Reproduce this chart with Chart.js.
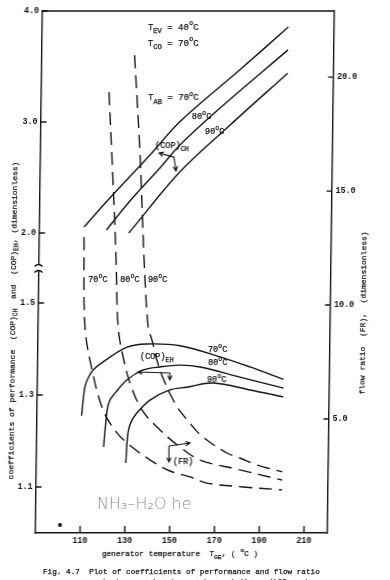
<!DOCTYPE html>
<html>
<head>
<meta charset="utf-8">
<script src="https://cdn.jsdelivr.net/npm/chart.js@4.4.0/dist/chart.umd.min.js"></script>
<style>
    html, body { margin: 0; padding: 0; background: #fff; }
    #wrap { width: 390px; height: 580px; overflow: hidden; background: #fff; }
    /* the scanned page is slightly sheared, so the whole figure leans a little */
    canvas { display: block; transform: skewX(-0.77deg); transform-origin: 50% 272px; }
</style>
</head>
<body>
<div id="wrap"><canvas id="fig" width="390" height="580"></canvas></div>
<script>
// generator temperature (degC) and values
const chT70 = [110, 120.5, 139, 152, 178.5, 200];
const ch70 = [2.054, 2.297, 2.703, 3.0, 3.468, 3.855];
const chT80 = [120, 130.3, 143.5, 152.3, 170, 200];
const ch80 = [2.027, 2.288, 2.586, 2.793, 3.126, 3.65];
const chT90 = [130, 152.4, 174.6, 200];
const ch90 = [2.0, 2.55, 2.973, 3.44];

const ehT70 = [110, 111.3, 112.7, 114.8, 119.3, 129.9, 138.8, 153.5, 171.4, 184.9, 200];
const eh70 = [1.255, 1.317, 1.337, 1.354, 1.372, 1.404, 1.411, 1.407, 1.383, 1.361, 1.334];
const ehT80 = [120, 121.4, 122.6, 124.8, 130.1, 137.1, 144.7, 153.6, 162.6, 180.4, 200];
const eh80 = [1.187, 1.267, 1.289, 1.304, 1.333, 1.354, 1.361, 1.365, 1.361, 1.339, 1.315];
const ehT90 = [130, 130.8, 132.1, 134.7, 140.5, 149.3, 156.9, 168.5, 185, 200];
const eh90 = [1.152, 1.217, 1.241, 1.261, 1.289, 1.311, 1.317, 1.326, 1.311, 1.296];

const frT70 = [110, 111, 114.4, 119.6, 125.9, 132.7, 140.9, 149.8, 158.7, 166.3, 182.5, 200];
const fr70 = [12.98, 9.04, 7.15, 5.39, 4.39, 3.77, 3.2, 2.72, 2.46, 2.19, 2.02, 1.89];
const frT80 = [120.3, 122.6, 124.4, 125.8, 128.2, 131.4, 137, 145.1, 154.1, 163.2, 179.7, 200];
const fr80 = [19.34, 15.48, 12.15, 9.04, 7.72, 6.58, 5.39, 4.52, 3.77, 3.2, 2.8, 2.32];
const frT90 = [131.5, 134.5, 137, 139.2, 141, 144.7, 151.6, 158.4, 164.3, 175.1, 181, 188.6, 200];
const fr90 = [20.96, 16.67, 11.97, 9.04, 8.46, 7.15, 5.7, 4.82, 4.21, 3.51, 3.29, 2.98, 2.68];

const xTicks = [110, 130, 150, 170, 190, 210];
const copTicks = [1.1, 1.3, 1.5, 2.0, 3.0, 4.0];
const frTicks = [5, 10, 15, 20];

// broken COP axis: 1.0-1.5 stretched, 1.5-2.0 squeezed by the break, 2.0-4.0 compressed
const copBreaks = [[1.0, 0], [1.5, 0.4406], [2.0, 0.5747], [4.0, 1]];

const ink = '#141414';
const mono = '"Liberation Mono", "DejaVu Sans Mono", monospace';

function copToDecimal(v) {
    for (let i = 1; i < copBreaks.length; i++) {
        const [v0, d0] = copBreaks[i - 1];
        const [v1, d1] = copBreaks[i];
        if (v <= v1 || i === copBreaks.length - 1) return d0 + (v - v0) / (v1 - v0) * (d1 - d0);
    }
}

function decimalToCop(d) {
    for (let i = 1; i < copBreaks.length; i++) {
        const [v0, d0] = copBreaks[i - 1];
        const [v1, d1] = copBreaks[i];
        if (d <= d1 || i === copBreaks.length - 1) return v0 + (d - d0) / (d1 - d0) * (v1 - v0);
    }
}

class BrokenScale extends Chart.LinearScale {
    getPixelForValue(value) {
        return value == null ? NaN : this.getPixelForDecimal(copToDecimal(value));
    }
    getValueForPixel(pixel) {
        return decimalToCop(this.getDecimalForPixel(pixel));
    }
}
BrokenScale.id = 'brokenCop';
BrokenScale.defaults = Chart.LinearScale.defaults;
Chart.register(BrokenScale);

const pts = (xs, ys) => xs.map((x, i) => ({ x, y: ys[i] }));

const solidLine = (label, xs, ys) => ({
    label, data: pts(xs, ys), yAxisID: 'y',
    borderColor: ink, borderWidth: 1.4, pointRadius: 0,
    tension: 0.35, fill: false
});
const dashLine = (label, xs, ys) => ({ ...solidLine(label, xs, ys), yAxisID: 'yFR', borderDash: [13, 7] });

// text labels placed in (temperature, flow ratio) coordinates
const labels = [
    { parts: [['T'], ['EV', 'sub'], [' = 40'], ['o', 'sup'], ['C']], x: 137.3, fr: 22.19, size: 9 },
    { parts: [['T'], ['CO', 'sub'], [' = 70'], ['o', 'sup'], ['C']], x: 137.4, fr: 21.49, size: 9 },
    { parts: [['T'], ['AB', 'sub'], [' = 70'], ['o', 'sup'], ['C']], x: 137.8, fr: 19.08, size: 9 },
    { parts: [['80'], ['o', 'sup'], ['C']], x: 157.5, fr: 18.25, size: 8.5 },
    { parts: [['90'], ['o', 'sup'], ['C']], x: 163.4, fr: 17.59, size: 8.5 },
    { parts: [['(COP)'], ['CH', 'sub']], x: 141.2, fr: 16.98, size: 8.5 },
    { parts: [['70'], ['o', 'sup'], ['C']], x: 112.1, fr: 11.1, size: 8.5 },
    { parts: [['80'], ['o', 'sup'], ['C']], x: 126.4, fr: 11.1, size: 8.5 },
    { parts: [['90'], ['o', 'sup'], ['C']], x: 138.8, fr: 11.1, size: 8.5 },
    { parts: [['(COP)'], ['EH', 'sub']], x: 135.7, fr: 7.72, size: 8.5 },
    { parts: [['70'], ['o', 'sup'], ['C']], x: 166.0, fr: 8.03, size: 8.5 },
    { parts: [['80'], ['o', 'sup'], ['C']], x: 166.1, fr: 7.46, size: 8.5 },
    { parts: [['90'], ['o', 'sup'], ['C']], x: 165.8, fr: 6.71, size: 8.5 },
    { parts: [['(FR)']], x: 151.1, fr: 3.11, size: 8.5 }
];

// direction arrows: corner point and the two arrow tips
const arrows = [
    { from: [149.7, 16.49], tips: [[143.0, 16.67], [150.7, 15.88]] },
    { from: [149.2, 7.02], tips: [[134.9, 7.06], [149.2, 6.71]] },
    { from: [149.2, 3.82], tips: [[158.6, 3.95], [149.3, 3.11]] }
];

function richWidth(ctx, parts, size) {
    let w = 0;
    for (const [t, kind] of parts) {
        ctx.font = `${kind ? size * 0.8 : size}px ${mono}`;
        w += ctx.measureText(t).width;
    }
    return w;
}

function drawRich(ctx, parts, x, y, size) {
    let cx = x;
    for (const [t, kind] of parts) {
        const fs = kind ? size * 0.8 : size;
        ctx.font = `${fs}px ${mono}`;
        const dy = kind === 'sub' ? size * 0.4 : kind === 'sup' ? -size * 0.45 : 0;
        ctx.fillText(t, cx, y + dy);
        // a hairline stroke thickens the thin mono glyphs like the typewriter scan
        ctx.strokeText(t, cx, y + dy);
        cx += ctx.measureText(t).width;
    }
}

function drawArrow(ctx, x0, y0, x1, y1) {
    const ang = Math.atan2(y1 - y0, x1 - x0);
    ctx.beginPath();
    ctx.moveTo(x0, y0);
    ctx.lineTo(x1, y1);
    ctx.moveTo(x1 - 5 * Math.cos(ang - 0.45), y1 - 5 * Math.sin(ang - 0.45));
    ctx.lineTo(x1, y1);
    ctx.lineTo(x1 - 5 * Math.cos(ang + 0.45), y1 - 5 * Math.sin(ang + 0.45));
    ctx.stroke();
}

const overlay = {
    id: 'overlay',
    afterDraw(chart) {
        const { ctx, chartArea: a, scales: { x, y, yFR } } = chart;
        ctx.save();
        ctx.strokeStyle = ink;
        ctx.fillStyle = ink;
        ctx.lineWidth = 1.4;

        // top frame line
        ctx.beginPath();
        ctx.moveTo(a.left, a.top);
        ctx.lineTo(a.right, a.top);
        ctx.stroke();

        // inward tick marks
        ctx.beginPath();
        xTicks.forEach(v => {
            const px = x.getPixelForValue(v);
            ctx.moveTo(px, a.bottom);
            ctx.lineTo(px, a.bottom - 7);
        });
        copTicks.forEach(v => {
            const py = y.getPixelForValue(v);
            ctx.moveTo(a.left, py);
            ctx.lineTo(a.left + 6, py);
        });
        frTicks.forEach(v => {
            const py = yFR.getPixelForValue(v);
            ctx.moveTo(a.right, py);
            ctx.lineTo(a.right - 5, py);
        });
        ctx.stroke();

        // break in the COP axis
        const pb = y.getPixelForValue(1.75);
        ctx.fillStyle = '#fff';
        ctx.fillRect(a.left - 2, pb - 3, 4, 6);
        ctx.fillStyle = ink;
        ctx.beginPath();
        [-3, 3].forEach(o => {
            ctx.moveTo(a.left - 4, pb + o + 1.5);
            ctx.quadraticCurveTo(a.left, pb + o - 2.5, a.left + 4, pb + o + 1.5);
        });
        ctx.stroke();

        // curve labels
        ctx.lineWidth = 0.25;
        ctx.textBaseline = 'middle';
        ctx.textAlign = 'left';
        labels.forEach(l => {
            drawRich(ctx, l.parts, x.getPixelForValue(l.x), yFR.getPixelForValue(l.fr), l.size);
        });

        ctx.lineWidth = 1.1;
        arrows.forEach(ar => {
            const x0 = x.getPixelForValue(ar.from[0]);
            const y0 = yFR.getPixelForValue(ar.from[1]);
            ar.tips.forEach(t => drawArrow(ctx, x0, y0, x.getPixelForValue(t[0]), yFR.getPixelForValue(t[1])));
        });

        ctx.lineWidth = 0.25;
        // left axis title
        const leftTitle = [['coefficients of performance  (COP)'], ['CH', 'sub'], ['  and  (COP)'], ['EH', 'sub'], [', (dimensionless)']];
        ctx.save();
        ctx.translate(13.6, 320.5);
        ctx.rotate(-Math.PI / 2);
        drawRich(ctx, leftTitle, -richWidth(ctx, leftTitle, 8) / 2, 0, 8);
        ctx.restore();

        // right axis title
        const rightTitle = [['flow ratio  (FR),  (dimensionless)']];
        ctx.save();
        ctx.translate(363.5, 313);
        ctx.rotate(-Math.PI / 2);
        drawRich(ctx, rightTitle, -richWidth(ctx, rightTitle, 8) / 2, 0, 8);
        ctx.restore();

        // x axis title
        const xTitle = [['generator temperature  T'], ['GE', 'sub'], [', ( '], ['o', 'sup'], ['C )']];
        drawRich(ctx, xTitle, 183.8 - richWidth(ctx, xTitle, 7.8) / 2, 554, 7.8);

        // caption
        drawRich(ctx, [['Fig. 4.7  Plot of coefficients of performance and flow ratio']], 47, 572, 7.7);
        ctx.textBaseline = 'top';
        drawRich(ctx, [['against generator temperature at three different']], 92, 578, 7.7);

        // handwritten note and a stray dot on the scan
        ctx.textBaseline = 'middle';
        ctx.fillStyle = '#8a8a8a';
        ctx.font = '200 16px "DejaVu Sans", sans-serif';
        ctx.fillText('NH\u2083\u2013H\u2082O he', x.getPixelForValue(117.4), yFR.getPixelForValue(1.23));
        ctx.fillStyle = ink;
        ctx.beginPath();
        ctx.arc(x.getPixelForValue(101), yFR.getPixelForValue(0.35), 2, 0, Math.PI * 2);
        ctx.fill();

        ctx.restore();
    }
};

const axisBorder = { display: true, color: ink, width: 1.4 };
const tickFont = { family: mono, size: 8.4, weight: 'bold' };

new Chart(document.getElementById('fig').getContext('2d'), {
    type: 'line',
    data: {
        datasets: [
            solidLine('(COP)CH 70', chT70, ch70),
            solidLine('(COP)CH 80', chT80, ch80),
            solidLine('(COP)CH 90', chT90, ch90),
            solidLine('(COP)EH 70', ehT70, eh70),
            solidLine('(COP)EH 80', ehT80, eh80),
            solidLine('(COP)EH 90', ehT90, eh90),
            dashLine('FR 70', frT70, fr70),
            dashLine('FR 80', frT80, fr80),
            dashLine('FR 90', frT90, fr90)
        ]
    },
    options: {
        responsive: false,
        animation: false,
        devicePixelRatio: 1,
        layout: { padding: { top: 11, left: 0, right: 0, bottom: 0 } },
        plugins: { legend: { display: false }, tooltip: { enabled: false } },
        scales: {
            x: {
                type: 'linear', min: 89.9, max: 220.3,
                grid: { display: false, drawTicks: false },
                border: axisBorder,
                ticks: { padding: 3, font: tickFont, color: ink, autoSkip: false, maxRotation: 0, callback: v => String(v) },
                afterBuildTicks: s => { s.ticks = xTicks.map(v => ({ value: v })); },
                afterFit: s => { s.height = 47; }
            },
            y: {
                type: 'brokenCop', position: 'left', min: 1.0, max: 4.0,
                grid: { display: false, drawTicks: false },
                border: axisBorder,
                ticks: { padding: 3, font: tickFont, color: ink, autoSkip: false, callback: v => v.toFixed(1) },
                afterBuildTicks: s => { s.ticks = copTicks.map(v => ({ value: v })); },
                afterFit: s => { s.width = 38.5; }
            },
            yFR: {
                type: 'linear', position: 'right', min: 0, max: 22.9,
                grid: { display: false, drawTicks: false },
                border: axisBorder,
                ticks: { padding: 4, font: tickFont, color: ink, autoSkip: false, callback: v => v.toFixed(1) },
                afterBuildTicks: s => { s.ticks = frTicks.map(v => ({ value: v })); },
                afterFit: s => { s.width = 59.5; }
            }
        }
    },
    plugins: [overlay]
});
</script>
</body>
</html>
